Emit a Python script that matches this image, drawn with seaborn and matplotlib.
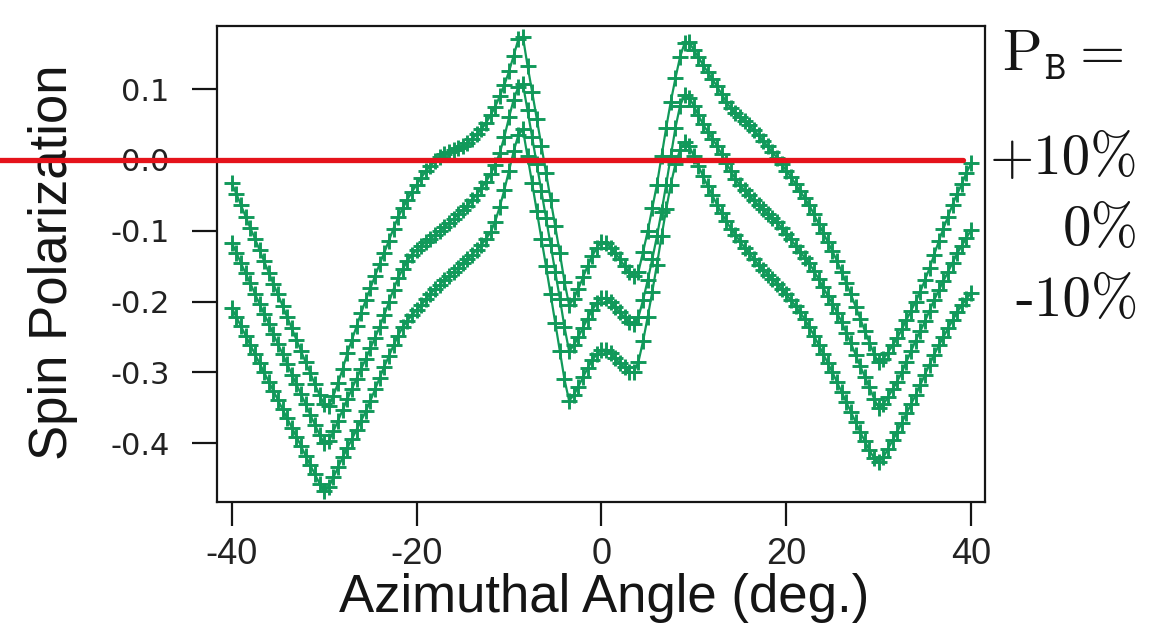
import numpy as np
import pandas as pd
import matplotlib
matplotlib.use("Agg")
import matplotlib.pyplot as plt
import seaborn as sns

# ---------------- data ----------------
angle = np.arange(-40.0, 40.25, 0.5)          # azimuthal angle grid (deg)

pol_plus10 = [
    -0.033, -0.048, -0.064, -0.080, -0.096, -0.111, -0.127, -0.143, -0.159, -0.175,
    -0.190, -0.206, -0.222, -0.238, -0.254, -0.270, -0.286, -0.301, -0.317, -0.332,
    -0.345, -0.347, -0.333, -0.315, -0.295, -0.273, -0.254, -0.235, -0.216, -0.198,
    -0.181, -0.164, -0.147, -0.131, -0.114, -0.097, -0.081, -0.068, -0.056, -0.045,
    -0.035, -0.025, -0.016, -0.008, -0.002, 0.004, 0.008, 0.011, 0.014, 0.017,
    0.020, 0.024, 0.030, 0.036, 0.043, 0.052, 0.063, 0.075, 0.090, 0.106,
    0.125, 0.147, 0.170, 0.174, 0.133, 0.096, 0.058, 0.020, -0.018, -0.056,
    -0.094, -0.132, -0.172, -0.205, -0.196, -0.182, -0.166, -0.150, -0.136, -0.124,
    -0.116, -0.117, -0.124, -0.132, -0.140, -0.150, -0.158, -0.164, -0.158, -0.130,
    -0.101, -0.068, -0.035, 0.005, 0.045, 0.082, 0.115, 0.145, 0.165, 0.166,
    0.155, 0.145, 0.134, 0.124, 0.114, 0.104, 0.093, 0.082, 0.073, 0.066,
    0.060, 0.055, 0.049, 0.042, 0.035, 0.027, 0.019, 0.011, 0.003, -0.006,
    -0.015, -0.024, -0.034, -0.044, -0.054, -0.064, -0.077, -0.090, -0.103, -0.116,
    -0.129, -0.143, -0.158, -0.174, -0.190, -0.207, -0.224, -0.241, -0.258, -0.274,
    -0.286, -0.281, -0.272, -0.262, -0.252, -0.239, -0.226, -0.213, -0.200, -0.186,
    -0.170, -0.153, -0.134, -0.115, -0.097, -0.080, -0.063, -0.048, -0.034, -0.018,
    -0.005,
]

pol_zero = [
    -0.117, -0.131, -0.146, -0.160, -0.174, -0.189, -0.203, -0.217, -0.231, -0.246,
    -0.260, -0.274, -0.288, -0.303, -0.317, -0.331, -0.345, -0.360, -0.374, -0.388,
    -0.400, -0.397, -0.383, -0.368, -0.353, -0.338, -0.323, -0.309, -0.295, -0.281,
    -0.266, -0.251, -0.236, -0.219, -0.201, -0.183, -0.167, -0.154, -0.143, -0.134,
    -0.127, -0.121, -0.116, -0.111, -0.106, -0.100, -0.095, -0.089, -0.083, -0.077,
    -0.071, -0.065, -0.057, -0.049, -0.040, -0.031, -0.020, -0.007, 0.010, 0.033,
    0.060, 0.085, 0.103, 0.107, 0.070, 0.032, -0.006, -0.044, -0.082, -0.120,
    -0.158, -0.196, -0.236, -0.270, -0.262, -0.250, -0.237, -0.224, -0.212, -0.202,
    -0.195, -0.195, -0.201, -0.208, -0.215, -0.222, -0.229, -0.232, -0.222, -0.198,
    -0.170, -0.140, -0.108, -0.073, -0.035, 0.005, 0.045, 0.076, 0.092, 0.088,
    0.076, 0.063, 0.050, 0.040, 0.030, 0.020, 0.008, -0.004, -0.016, -0.027,
    -0.036, -0.043, -0.050, -0.057, -0.064, -0.070, -0.076, -0.082, -0.088, -0.096,
    -0.104, -0.112, -0.121, -0.130, -0.138, -0.146, -0.157, -0.168, -0.180, -0.192,
    -0.203, -0.216, -0.229, -0.244, -0.259, -0.275, -0.291, -0.306, -0.321, -0.337,
    -0.350, -0.345, -0.335, -0.324, -0.313, -0.300, -0.285, -0.270, -0.255, -0.242,
    -0.228, -0.213, -0.198, -0.184, -0.171, -0.158, -0.145, -0.132, -0.121, -0.110,
    -0.099,
]

pol_minus10 = [
    -0.209, -0.222, -0.235, -0.248, -0.261, -0.274, -0.287, -0.300, -0.313, -0.326,
    -0.339, -0.352, -0.365, -0.378, -0.391, -0.404, -0.418, -0.431, -0.444, -0.457,
    -0.468, -0.462, -0.448, -0.434, -0.420, -0.407, -0.394, -0.381, -0.368, -0.355,
    -0.340, -0.324, -0.308, -0.292, -0.277, -0.262, -0.248, -0.236, -0.227, -0.219,
    -0.212, -0.205, -0.197, -0.189, -0.182, -0.176, -0.170, -0.164, -0.158, -0.152,
    -0.146, -0.140, -0.134, -0.127, -0.120, -0.112, -0.102, -0.087, -0.066, -0.042,
    -0.015, 0.012, 0.035, 0.043, 0.005, -0.033, -0.072, -0.111, -0.150, -0.190,
    -0.230, -0.270, -0.310, -0.340, -0.332, -0.320, -0.307, -0.294, -0.283, -0.274,
    -0.268, -0.268, -0.273, -0.280, -0.287, -0.293, -0.299, -0.300, -0.285, -0.256,
    -0.222, -0.186, -0.148, -0.108, -0.070, -0.035, -0.006, 0.014, 0.025, 0.020,
    0.005, -0.009, -0.023, -0.037, -0.050, -0.063, -0.075, -0.086, -0.097, -0.106,
    -0.115, -0.124, -0.132, -0.140, -0.148, -0.155, -0.162, -0.168, -0.175, -0.182,
    -0.190, -0.198, -0.206, -0.215, -0.225, -0.236, -0.248, -0.261, -0.274, -0.287,
    -0.300, -0.314, -0.328, -0.342, -0.356, -0.370, -0.384, -0.397, -0.410, -0.421,
    -0.427, -0.420, -0.408, -0.396, -0.384, -0.371, -0.358, -0.345, -0.332, -0.318,
    -0.303, -0.289, -0.275, -0.262, -0.250, -0.238, -0.226, -0.215, -0.205, -0.196,
    -0.188,
]

series_labels = ["+10%", "0%", "-10%"]
label_levels = [0.0, -0.1, -0.2]
x_ticks = [-40, -20, 0, 20, 40]
y_ticks = [0.1, 0.0, -0.1, -0.2, -0.3, -0.4]

# ---------------- style ----------------
sns.set_theme(style="white")
plt.rcParams["axes.unicode_minus"] = False
plt.rcParams["mathtext.fontset"] = "cm"
plt.rcParams["font.family"] = ["Liberation Sans", "DejaVu Sans"]

green = "#11995a"
red = "#e5131b"
ink = "#151515"

df = pd.DataFrame({
    "angle": np.concatenate([angle] * 3),
    "pol": np.concatenate([pol_plus10, pol_zero, pol_minus10]),
    "PB": np.repeat(series_labels, len(angle)),
})

fig = plt.figure(figsize=(11.5, 6.35), dpi=100)
ax = fig.add_axes([0.1887, 0.2094, 0.6678, 0.7496])

for lab in series_labels:
    sub = df[df["PB"] == lab]
    sns.lineplot(data=sub, x="angle", y="pol", ax=ax, color=green,
                 estimator=None, sort=False, linewidth=1.6,
                 marker="+", markersize=12, markeredgewidth=2.1,
                 markeredgecolor=green, legend=False)

ax.set_xlim(-41.6, 41.5)
ax.set_ylim(-0.483, 0.189)

ax.set_xticks(x_ticks)
ax.set_xticklabels([str(t) for t in x_ticks], fontsize=26, color="#222222")
ax.set_yticks(y_ticks)
ax.set_yticklabels([f"{t:.1f}" for t in y_ticks], fontsize=22, family=["DejaVu Sans"],
                   color="#222222")

ax.tick_params(axis="x", direction="out", length=17, width=1.6, pad=8, colors=ink,
               labelcolor="#222222", bottom=True)
ax.tick_params(axis="y", direction="out", length=18, width=1.6, pad=16, colors=ink,
               labelcolor="#222222", left=True)

for s in ax.spines.values():
    s.set_color(ink)
    s.set_linewidth(1.6)

ax.set_xlabel("Azimuthal Angle (deg.)", fontsize=38, color=ink)
ax.set_ylabel("Spin Polarization", fontsize=38, color=ink)
ax.xaxis.label.set_va("baseline")
ax.xaxis.set_label_coords(0.504, -0.231)
ax.yaxis.label.set_va("baseline")
ax.yaxis.set_label_coords(-0.195, 0.504)

# red reference line at zero, running out to the left edge of the figure
ax.axhline(0.0, xmin=-0.3, xmax=0.972, color=red, linewidth=3.8, zorder=20, clip_on=False)

# right-hand annotation
ytr = ax.get_yaxis_transform()
ax.text(1.022, 0.148, r"$\mathrm{P}_{\mathtt{B}}=$", transform=ytr, fontsize=42,
        ha="left", va="center", color=ink, clip_on=False)
for lab, lev in zip(series_labels, label_levels):
    ax.text(1.2, lev, lab, transform=ytr, fontsize=41, family=["cmr10"],
            ha="right", va="center", color=ink, clip_on=False)

fig.savefig("out.png", dpi=100, facecolor="white")
